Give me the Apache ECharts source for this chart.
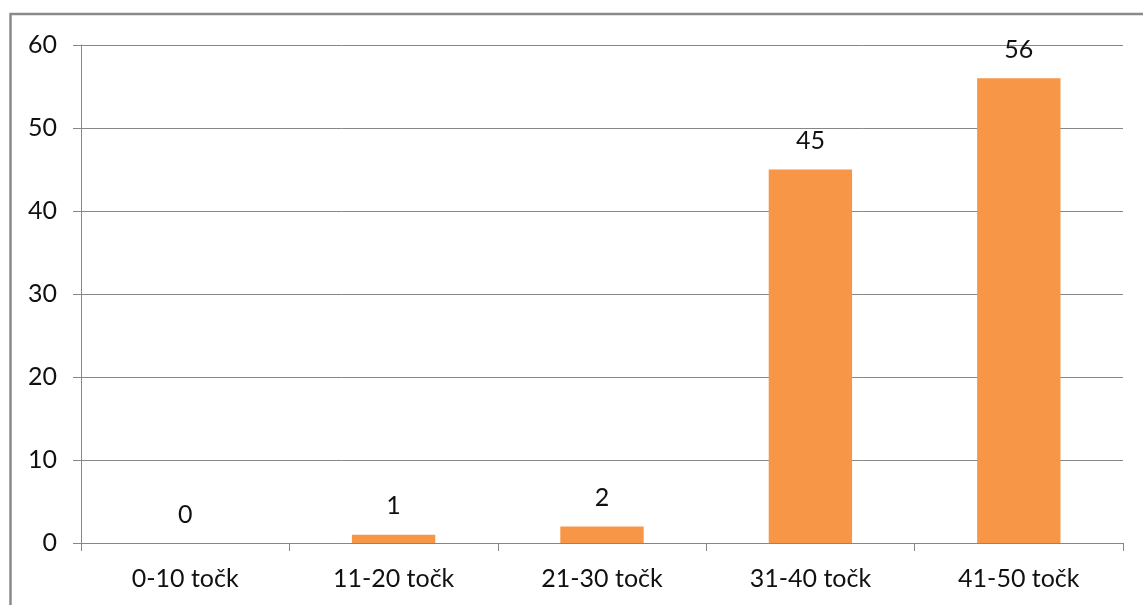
<!DOCTYPE html>
<html>
<head>
<meta charset="utf-8">
<script src="https://cdn.jsdelivr.net/npm/echarts@6/dist/echarts.min.js"></script>
<style>
  html, body { margin: 0; padding: 0; background: #ffffff; }
  #chart { width: 1143px; height: 605px; }
</style>
</head>
<body>
<div id="chart"></div>
<script>
// Score bands and the number of results in each band
const categories = ['0-10 točk', '11-20 točk', '21-30 točk', '31-40 točk', '41-50 točk'];
const counts = [0, 1, 2, 45, 56];
const yTicks = { min: 0, max: 60, interval: 10 };

const FONT = 'Lato, "Open Sans", sans-serif';
const GRID_COLOR = '#878787';
const TEXT_COLOR = '#111111';
const FONT_SIZE = 25;

const chart = echarts.init(document.getElementById('chart'), null, { renderer: 'canvas' });

chart.setOption({
  backgroundColor: '#ffffff',
  animation: false,
  textStyle: { fontFamily: FONT },
  graphic: [{
    type: 'rect',
    shape: { x: 10.5, y: 14, width: 1200, height: 700 },
    style: { fill: 'none', stroke: '#8a8a8a', lineWidth: 2.5 },
    silent: true
  }],
  grid: { left: 81, right: 20, top: 45, bottom: 62, containLabel: false },
  xAxis: {
    type: 'category',
    data: categories,
    axisLine: { show: true, lineStyle: { color: GRID_COLOR, width: 1 } },
    axisTick: { show: true, alignWithLabel: false, length: 8, lineStyle: { color: GRID_COLOR } },
    axisLabel: { color: TEXT_COLOR, fontSize: FONT_SIZE, fontFamily: FONT, margin: 23 },
    splitLine: { show: false }
  },
  yAxis: {
    type: 'value',
    min: yTicks.min,
    max: yTicks.max,
    interval: yTicks.interval,
    axisLine: { show: true, lineStyle: { color: GRID_COLOR, width: 1 } },
    axisTick: { show: true, length: 8, lineStyle: { color: GRID_COLOR } },
    axisLabel: { color: TEXT_COLOR, fontSize: FONT_SIZE, fontFamily: FONT, margin: 24 },
    splitLine: { show: true, lineStyle: { color: GRID_COLOR, width: 1 } }
  },
  series: [{
    type: 'bar',
    data: counts,
    barWidth: '40%',
    itemStyle: { color: '#F79646' },
    label: {
      show: true,
      position: 'top',
      distance: 16,
      color: TEXT_COLOR,
      fontSize: FONT_SIZE,
      fontFamily: FONT
    }
  }]
});
</script>
</body>
</html>
